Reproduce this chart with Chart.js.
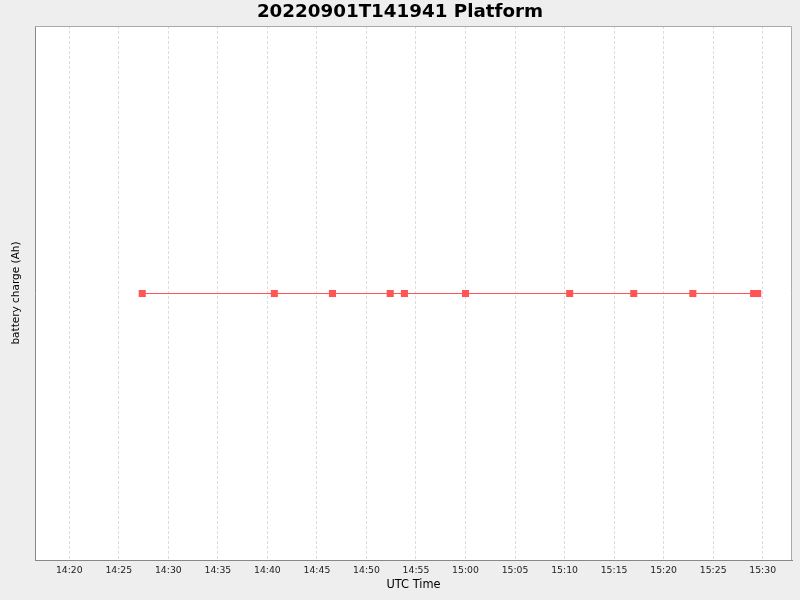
<!DOCTYPE html>
<html>
<head>
<meta charset="utf-8">
<script src="https://cdn.jsdelivr.net/npm/chart.js@4"></script>
<style>
  html, body { margin: 0; padding: 0; background: #eeeeee; }
  #wrap { width: 800px; height: 600px; }
</style>
</head>
<body>
<div id="wrap"><canvas id="batteryChart" width="800" height="600"></canvas></div>
<script>
// sample times (UTC) and battery charge readings
const sampleTimes = ['14:27:22', '14:40:42', '14:46:34', '14:52:24', '14:53:50', '15:00:00',
                     '15:10:31', '15:16:59', '15:22:57', '15:29:05', '15:29:30'];
const batteryCharge = [0, 0, 0, 0, 0, 0, 0, 0, 0, 0, 0];

// x axis ticks, every 5 minutes
const tickLabels = ['14:20', '14:25', '14:30', '14:35', '14:40', '14:45', '14:50', '14:55',
                    '15:00', '15:05', '15:10', '15:15', '15:20', '15:25', '15:30'];

// time string -> minutes since midnight
function toMinutes(t) {
    const p = t.split(':').map(Number);
    return p[0] * 60 + p[1] + (p[2] || 0) / 60;
}

const tickMinutes = tickLabels.map(toMinutes);
const points = sampleTimes.map((t, i) => ({ x: toMinutes(t), y: batteryCharge[i] }));

// grey page + white plot area + light top/right frame
const plotBackground = {
    id: 'plotBackground',
    beforeDraw(chart) {
        const c = chart.ctx, a = chart.chartArea;
        c.save();
        c.fillStyle = '#eeeeee';
        c.fillRect(0, 0, chart.width, chart.height);
        c.fillStyle = '#ffffff';
        c.fillRect(a.left, a.top, a.right - a.left, a.bottom - a.top);
        c.restore();
    },
    beforeDatasetsDraw(chart) {
        const c = chart.ctx, a = chart.chartArea;
        c.save();
        c.strokeStyle = '#aaaaaa';
        c.lineWidth = 1;
        c.beginPath();
        c.moveTo(a.left, a.top + 0.5);
        c.lineTo(a.right - 0.5, a.top + 0.5);
        c.lineTo(a.right - 0.5, a.bottom);
        c.stroke();
        c.restore();
    }
};

const ctx = document.getElementById('batteryChart').getContext('2d');
new Chart(ctx, {
    type: 'line',
    data: {
        datasets: [{
            data: points,
            borderColor: '#ff5555',
            borderWidth: 1,
            backgroundColor: '#ff5555',
            pointStyle: 'rect',
            pointRadius: 5,
            pointBorderWidth: 0,
            pointBackgroundColor: '#ff5555',
            tension: 0
        }]
    },
    options: {
        responsive: false,
        animation: false,
        layout: { padding: 0 },
        plugins: {
            legend: { display: false },
            tooltip: { enabled: false },
            title: {
                display: true,
                text: '20220901T141941 Platform',
                color: '#000000',
                font: { family: 'DejaVu Sans', size: 18.3, weight: 'bold' },
                lineHeight: 1.2,
                padding: { top: 1.6, bottom: 2.44 }
            }
        },
        scales: {
            x: {
                type: 'linear',
                min: 856.54,
                max: 932.96,
                afterFit(scale) { scale.height = 40; },
                afterBuildTicks(scale) { scale.ticks = tickMinutes.map(v => ({ value: v })); },
                grid: { color: '#dcdcdc', drawTicks: false },
                border: { color: '#888888', dash: [3, 2] },
                ticks: {
                    color: '#222222',
                    padding: 5,
                    maxRotation: 0,
                    autoSkip: false,
                    font: { family: 'DejaVu Sans', size: 9.3 },
                    callback: (v, i) => tickLabels[i]
                },
                title: {
                    display: true,
                    text: 'UTC Time',
                    color: '#000000',
                    font: { family: 'DejaVu Sans', size: 11.4 },
                    padding: { top: 0, bottom: 7.7 }
                }
            },
            y: {
                min: -1,
                max: 1.0038,
                afterFit(scale) { scale.width = 35; },
                grid: { display: false, drawTicks: false },
                border: { color: '#888888' },
                ticks: { display: false },
                title: {
                    display: true,
                    text: 'battery charge (Ah)',
                    color: '#000000',
                    font: { family: 'DejaVu Sans', size: 10.5 },
                    padding: { top: 10, bottom: 0 }
                }
            },
            right: {
                position: 'right',
                afterFit(scale) { scale.width = 8; },
                grid: { display: false, drawTicks: false },
                border: { display: false },
                ticks: { display: false }
            }
        }
    },
    plugins: [plotBackground]
});
</script>
</body>
</html>
